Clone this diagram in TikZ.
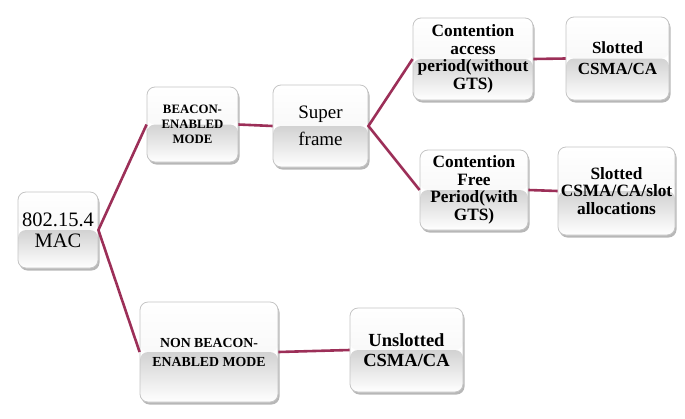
\documentclass[tikz,border=0pt]{standalone}
\usepackage{fontspec}
\setmainfont{Liberation Serif}
\usetikzlibrary{shadows}
\definecolor{linkc}{HTML}{9C2F58}
\definecolor{edgec}{HTML}{C4C4C4}
\definecolor{bandc}{HTML}{D2D2D2}
\tikzset{
  box/.style={draw=edgec, line width=0.8pt, rounded corners=8pt, fill=white,
    align=center, inner sep=1pt,
    drop shadow={shadow xshift=1.5pt, shadow yshift=-2.5pt, opacity=0.4, fill=black!70},
    path picture={
      \shade[top color=white, bottom color=black!5]
        (path picture bounding box.north west) rectangle (path picture bounding box.east);
      \shade[top color=bandc, bottom color=white]
        (path picture bounding box.west) rectangle (path picture bounding box.south east);
    }},
  link/.style={draw=linkc, line width=2.6pt},
  fbig/.style={font=\fontsize{20.5}{21}\selectfont},
  fsup/.style={font=\fontsize{19}{27}\selectfont},
  fbold/.style={font=\bfseries\fontsize{17.3}{17.5}\selectfont},
  fslot/.style={font=\bfseries\fontsize{17}{21}\selectfont},
  fsmall/.style={font=\bfseries\fontsize{12.8}{15}\selectfont},
  fnon/.style={font=\bfseries\fontsize{13.8}{19}\selectfont},
  funs/.style={font=\bfseries\fontsize{18.5}{20}\selectfont},
}
\begin{document}
\begin{tikzpicture}[x=1pt, y=-1pt]
\useasboundingbox (0,0) rectangle (685,418);
\node[box, fbig, minimum width=80pt, minimum height=76pt] (mac) at (58,230) {802.15.4\\MAC};
\node[box, fsmall, minimum width=91pt, minimum height=75pt] (beacon) at (192.5,124.5) {BEACON-\\ENABLED\\MODE};
\node[box, fsup, minimum width=95pt, minimum height=82pt] (super) at (320.5,126) {Super\\frame};
\node[box, fbold, minimum width=120pt, minimum height=82pt] (cap) at (473,59) {Contention\\access\\period(without\\GTS)};
\node[box, fslot, minimum width=103pt, minimum height=83pt] (slot1) at (617.5,58.5) {Slotted\\CSMA/CA};
\node[box, fbold, minimum width=108pt, minimum height=80pt] (cfp) at (474,190) {Contention\\Free\\Period(with\\GTS)};
\node[box, fbold, minimum width=117pt, minimum height=88pt] (slot2) at (616.5,191) {Slotted\\CSMA/CA/slot\\allocations};
\node[box, fnon, minimum width=138pt, minimum height=100pt] (nonb) at (209,352) {NON BEACON-\\ENABLED MODE};
\node[box, funs, minimum width=113pt, minimum height=84pt] (unsl) at (406.5,350) {Unslotted\\CSMA/CA};
\draw[link] (beacon.west) -- (mac.east) -- (nonb.west);
\draw[link] (beacon.east) -- (super.west);
\draw[link] (cap.west) -- (super.east) -- (cfp.west);
\draw[link] (cap.east) -- (slot1.west);
\draw[link] (cfp.east) -- (slot2.west);
\draw[link] (nonb.east) -- (unsl.west);
\end{tikzpicture}
\end{document}
